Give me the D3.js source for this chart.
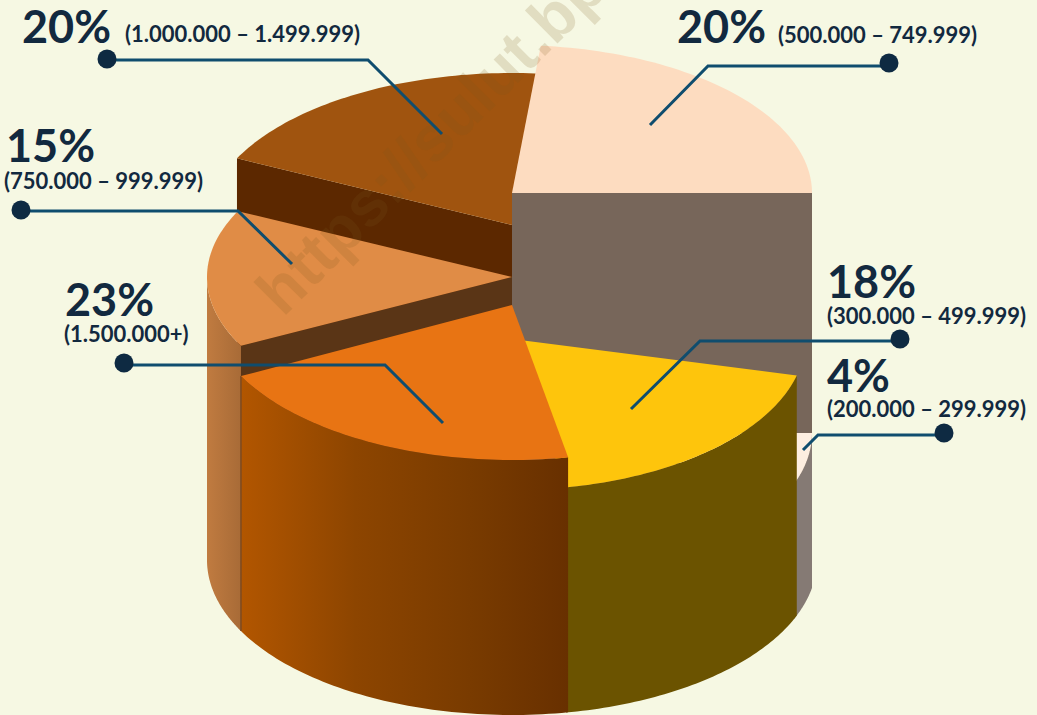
<!DOCTYPE html>
<meta charset="utf-8">
<style>
	body { margin: 0; background: #f6f8e3; font-family: Lato, Arial; }
	svg { display: block; }
	text { fill: #12293f; font-weight: 700; }
</style>
<body>
<svg id="pie3d" width="1037" height="715"></svg>
<script src="https://d3js.org/d3.v7.min.js"></script>
<script>
	// values as printed
	var shares = ["20%", "4%", "18%", "23%", "15%", "20%"];
	var incomeBands = ["(500.000 – 749.999)", "(200.000 – 299.999)", "(300.000 – 499.999)", "(1.500.000+)", "(750.000 – 999.999)", "(1.000.000 – 1.499.999)"];
	// sweep of each slice in degrees (not quite the printed shares)
	var drawnSweep = [84.5, 14, 65.4, 73.3, 53.3, 69.5];
	// how far each slice is lifted over the base
	var sliceRise = [367, 127, 221, 255, 283, 335];

	var svg = d3.select("#pie3d"),
	cx = 512,
	baseY = 560,
	baseRx = 305,
	baseRy = 155;

	var deg = d3.scaleLinear().domain([0, 360]).range([0, 2 * Math.PI]);

	var arcs = d3.pie().value(function(d) { return d; }).sort(null)
	.startAngle(deg(5.5)).endAngle(deg(365.5))(drawnSweep);

	// per slice look, same order as the data
	var looks = [
		{rx: 300, ry: 148, top: "#fddcc0", cut: "#77665a", cutSide: "end"},
		{rx: 300, ry: 150, top: "#fdeee0", wall: "#857a74", tuck: 6},
		{rx: 293.5, ry: 151, top: "#fec50c", wall: "#6b5300"},
		{rx: 305, ry: 155, top: "#e87413", wall: "url(#wallOrange)"},
		{rx: 305, ry: 150, top: "#e08c46", wall: "url(#wallLight)", cut: "#5a3516", cutSide: "start"},
		{rx: 306, ry: 152, top: "#a0540f", cut: "#5c2800", cutSide: "start"}
	];
	var paintOrder = [5, 0, 4, 1, 2, 3];

	var defs = svg.append("defs");
	function gradient(id, x1, x2, stops) {
		var g = defs.append("linearGradient").attr("id", id)
		.attr("gradientUnits", "userSpaceOnUse")
		.attr("x1", x1).attr("x2", x2).attr("y1", 0).attr("y2", 0);
		stops.forEach(function(s) {
			g.append("stop").attr("offset", s[0]).attr("stop-color", s[1]);
		});
	}
	gradient("wallOrange", 241, 568, [[0, "#b25600"], [0.35, "#8d4500"], [0.7, "#793b00"], [1, "#683000"]]);
	gradient("wallLight", 207, 241, [[0, "#c07b40"], [1, "#a86b37"]]);

	var line = d3.line();

	function pointOn(s, a) {
		return [cx + s.rx * Math.sin(a), s.y - s.ry * Math.cos(a)];
	}
	function arcPoints(s, a0, a1) {
		var n = 60;
		return d3.range(n + 1).map(function(i) { return pointOn(s, a0 + (a1 - a0) * i / n); });
	}
	function groundY(x) {
		var t = Math.min(1, Math.abs(x - cx) / baseRx);
		return baseY + baseRy * Math.sqrt(1 - t * t);
	}

	var chart = svg.append("g");

	paintOrder.forEach(function(i) {
		var look = looks[i],
		arc = arcs[i],
		s = {rx: look.rx, ry: look.ry, y: baseY - sliceRise[i]},
		a0 = arc.startAngle,
		a1 = arc.endAngle + deg(look.tuck || 0);

		// cut face, runs down from the edge that looks to the front
		if (look.cut) {
			var edge = pointOn(s, look.cutSide == "end" ? a1 : a0);
			var drop = baseY - s.y;
			chart.append("path")
			.attr("d", line([[cx, s.y], edge, [edge[0], edge[1] + drop], [cx, s.y + drop]]) + "Z")
			.attr("fill", look.cut);
		}

		// outer wall, only the part that faces us
		var w0 = Math.max(a0, deg(90)), w1 = Math.min(a1, deg(270));
		if (look.wall && w1 > w0) {
			var upper = arcPoints(s, w0, w1);
			var lower = upper.map(function(p) { return [p[0], groundY(p[0])]; }).reverse();
			chart.append("path")
			.attr("d", line(upper.concat(lower)) + "Z")
			.attr("fill", look.wall);
			if (i == 3) {
				var last = upper[upper.length - 1];
				chart.append("line")
				.attr("x1", last[0]).attr("x2", last[0])
				.attr("y1", last[1]).attr("y2", groundY(last[0]))
				.attr("stroke", "#7d4a20").attr("stroke-width", 1.5);
			}
		}

		chart.append("path")
		.attr("d", line([[cx, s.y]].concat(arcPoints(s, a0, a1))) + "Z")
		.attr("fill", look.top);
	});

	// watermark
	svg.append("text")
	.attr("transform", "translate(283,318) rotate(-45)")
	.attr("font-family", "Liberation Sans, Arial")
	.attr("font-size", 64)
	.style("fill", "#7a5a20")
	.style("fill-opacity", 0.17)
	.text("https://sulut.bp");

	// label placement, same order as the data
	var labels = [
		{bx: 677, by: 43, sx: 778, sy: 43, dot: [889, 63], leader: [[889, 66], [708, 66], [650, 125]]},
		{bx: 827, by: 392, sx: 827, sy: 417, dot: [944, 433], leader: [[944, 435], [818, 435], [803, 450]]},
		{bx: 827, by: 298, sx: 827, sy: 324, dot: [900, 339], leader: [[900, 341], [700, 341], [631, 409]]},
		{bx: 65, by: 316, sx: 64, sy: 342, dot: [124, 363], leader: [[124, 365], [385, 365], [443, 423]]},
		{bx: 6, by: 162, sx: 4, sy: 189, dot: [21, 210], leader: [[21, 211], [238, 211], [292, 264]]},
		{bx: 22, by: 43, sx: 125, sy: 42, dot: [107, 59], leader: [[107, 60], [368, 60], [442, 134]]}
	];

	var lab = svg.selectAll(".lab").data(labels).enter().append("g").attr("class", "lab");

	lab.append("path")
	.attr("d", function(d) { return line(d.leader); })
	.attr("fill", "none")
	.attr("stroke", "#0f4d6e")
	.attr("stroke-width", 3);

	lab.append("circle")
	.attr("cx", function(d) { return d.dot[0]; })
	.attr("cy", function(d) { return d.dot[1]; })
	.attr("r", 9.5)
	.attr("fill", "#0e2a42");

	lab.append("text")
	.attr("x", function(d) { return d.bx; })
	.attr("y", function(d) { return d.by; })
	.attr("font-size", 45)
	.text(function(d, i) { return shares[i]; });

	lab.append("text")
	.attr("x", function(d) { return d.sx; })
	.attr("y", function(d) { return d.sy; })
	.attr("font-size", 22)
	.text(function(d, i) { return incomeBands[i]; });
</script>
</body>
